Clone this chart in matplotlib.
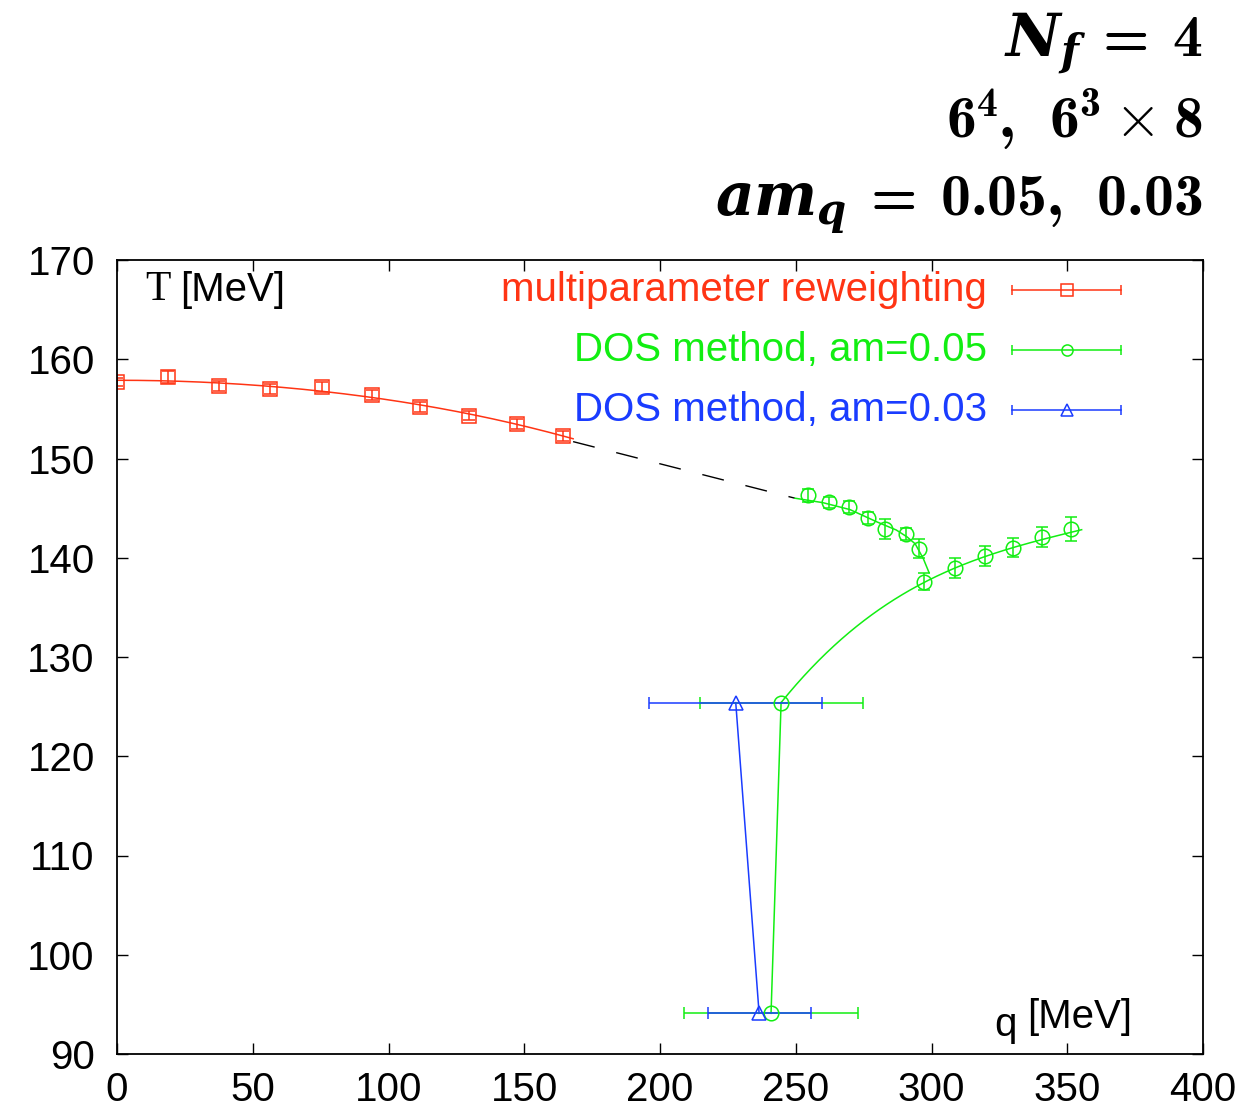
import numpy as np
import matplotlib
matplotlib.use('Agg')
import matplotlib.pyplot as plt

plt.rcParams['font.family'] = ['Liberation Sans', 'DejaVu Sans']
plt.rcParams['mathtext.fontset'] = 'custom'
plt.rcParams['mathtext.rm'] = 'cmb10'
plt.rcParams['mathtext.bf'] = 'cmb10'
plt.rcParams['mathtext.it'] = 'DejaVu Serif:italic:bold'

RED = '#ff3414'
GREEN = '#12ee12'
BLUE = '#1a3cff'

# multiparameter reweighting
mpr_q = [0.0, 18.9, 37.6, 56.4, 75.4, 93.8, 111.6, 129.7, 147.2, 164.4]
mpr_T = [157.7, 158.2, 157.3, 157.0, 157.2, 156.4, 155.2, 154.3, 153.5, 152.3]
mpr_err = [0.4, 0.6, 0.5, 0.5, 0.55, 0.5, 0.5, 0.45, 0.5, 0.5]

# DOS am=0.05, upper and lower branch
dos5_up_q = [254.4, 262.2, 269.7, 276.5, 282.9, 290.5, 295.5]
dos5_up_T = [146.3, 145.6, 145.1, 144.0, 142.9, 142.4, 140.9]
dos5_up_err = [0.65, 0.57, 0.58, 0.64, 1.05, 0.6, 0.97]
dos5_lo_q = [297.2, 308.7, 319.7, 329.9, 340.8, 351.4]
dos5_lo_T = [137.6, 139.0, 140.2, 141.0, 142.1, 142.9]
dos5_lo_err = [0.85, 1.0, 1.0, 0.97, 1.0, 1.2]
# points with horizontal errors
dos5_h_q = [244.6, 240.9]
dos5_h_T = [125.4, 94.1]
dos5_h_err = [30.0, 32.0]
dos3_h_q = [227.9, 236.5]
dos3_h_T = [125.4, 94.1]
dos3_h_err = [31.9, 19.0]

# curves
fit_up_q = [249.7, 260.0, 270.0, 280.0, 287.0, 291.0, 294.0, 297.0, 299.1]
fit_up_T = [146.0, 145.55, 144.85, 143.6, 142.8, 142.1, 141.4, 139.9, 138.5]
fit_lo_q = [244.6, 255.2, 267.5, 279.8, 297.0, 308.7, 319.7, 329.9, 340.8, 355.3]
fit_lo_T = [125.4, 128.7, 132.0, 134.7, 137.4, 138.9, 140.1, 141.0, 142.0, 142.75]
dash_q = [168.0, 249.7]
dash_T = [151.7, 146.0]

fig = plt.figure(figsize=(12.58, 11.11), dpi=100)
ax = fig.add_axes([117 / 1258, 1 - 1054 / 1111, 1086 / 1258, 794 / 1111])

# red fit: polynomial in q^2 through the reweighting points
qq = np.linspace(0, 168, 200)
coef = np.polyfit(np.array(mpr_q) ** 2, mpr_T, 2)
ax.plot(qq, np.polyval(coef, qq ** 2), color=RED, lw=1.1)
ln, = ax.plot(dash_q, dash_T, color='black', lw=1.0)
ln.set_dashes([16, 16])
ax.plot(fit_up_q, fit_up_T, color=GREEN, lw=1.1)
# smooth lower branch curve, plus the jump down to the bottom point
lo_coef = np.polyfit(fit_lo_q, fit_lo_T, 3)
ql = np.linspace(fit_lo_q[0], fit_lo_q[-1], 200)
ax.plot(ql, np.polyval(lo_coef, ql), color=GREEN, lw=1.1)
ax.plot(dos5_h_q, dos5_h_T, color=GREEN, lw=1.1)
ax.plot(dos3_h_q, dos3_h_T, color=BLUE, lw=1.1)

ekw = dict(linestyle='none', capsize=4.3, elinewidth=1.1, capthick=1.1,
           markerfacecolor='none', markeredgewidth=1.1)
ax.errorbar(mpr_q, mpr_T, yerr=mpr_err, marker='s', markersize=10.5,
            color=RED, **ekw)
ax.errorbar(dos5_up_q, dos5_up_T, yerr=dos5_up_err, marker='o', markersize=10.5,
            color=GREEN, **ekw)
ax.errorbar(dos5_lo_q, dos5_lo_T, yerr=dos5_lo_err, marker='o', markersize=10.5,
            color=GREEN, **ekw)
ax.errorbar(dos5_h_q, dos5_h_T, xerr=dos5_h_err, marker='o', markersize=10.5,
            color=GREEN, **ekw)
ax.errorbar(dos3_h_q, dos3_h_T, xerr=dos3_h_err, marker='^', markersize=9.5,
            color=BLUE, **ekw)

ax.set_xlim(0, 400)
ax.set_ylim(90, 170)
ax.set_xticks(range(0, 401, 50))
ax.set_yticks(range(90, 171, 10))
ax.tick_params(direction='in', length=8, width=1.0, top=True, right=True,
               labelsize=29)
ax.tick_params(axis='y', pad=16)
ax.tick_params(axis='x', pad=12)
for s in ax.spines.values():
    s.set_linewidth(1.3)

# legend, drawn by hand in axes fraction
legend = [('multiparameter reweighting', RED, 's', 9),
          ('DOS method, am=0.05', GREEN, 'o', 8),
          ('DOS method, am=0.03', BLUE, '^', 8.5)]
for i, (lab, col, mk, ms) in enumerate(legend):
    y = 0.962 - i * 0.0755
    ax.text(0.801, y, lab, color=col, fontsize=29, ha='right', va='center',
            transform=ax.transAxes)
    ax.plot([0.824, 0.9245], [y, y], color=col, lw=1.1, transform=ax.transAxes)
    ax.plot([0.824, 0.9245], [y, y], color=col, lw=0, marker='|', markersize=7,
            markeredgewidth=1.1, transform=ax.transAxes)
    ax.plot([0.875], [y], color=col, marker=mk, markersize=ms, markerfacecolor='none',
            markeredgewidth=1.1, transform=ax.transAxes)

ax.text(0.026, 0.962, 'T', family='Liberation Serif', fontsize=30, ha='left',
        va='center', transform=ax.transAxes)
ax.text(0.058, 0.962, '[MeV]', fontsize=29, ha='left', va='center',
        transform=ax.transAxes)
ax.text(0.808, 0.0227, 'q', fontsize=29, ha='left', va='baseline',
        transform=ax.transAxes)
ax.text(0.838, 0.0327, '[MeV]', fontsize=29, ha='left', va='baseline',
        transform=ax.transAxes)

fig.text(0.956, 1 - 57 / 1111, r'$N_f\,=\,4$', fontsize=43, ha='right', va='baseline')
fig.text(0.956, 1 - 138 / 1111, r'$6^4,\ 6^3\times 8$', fontsize=43, ha='right', va='baseline')
fig.text(0.956, 1 - 216 / 1111, r'$am_q\,=\,0.05,\ 0.03$', fontsize=43, ha='right', va='baseline')

fig.savefig('out.png', dpi=100)
